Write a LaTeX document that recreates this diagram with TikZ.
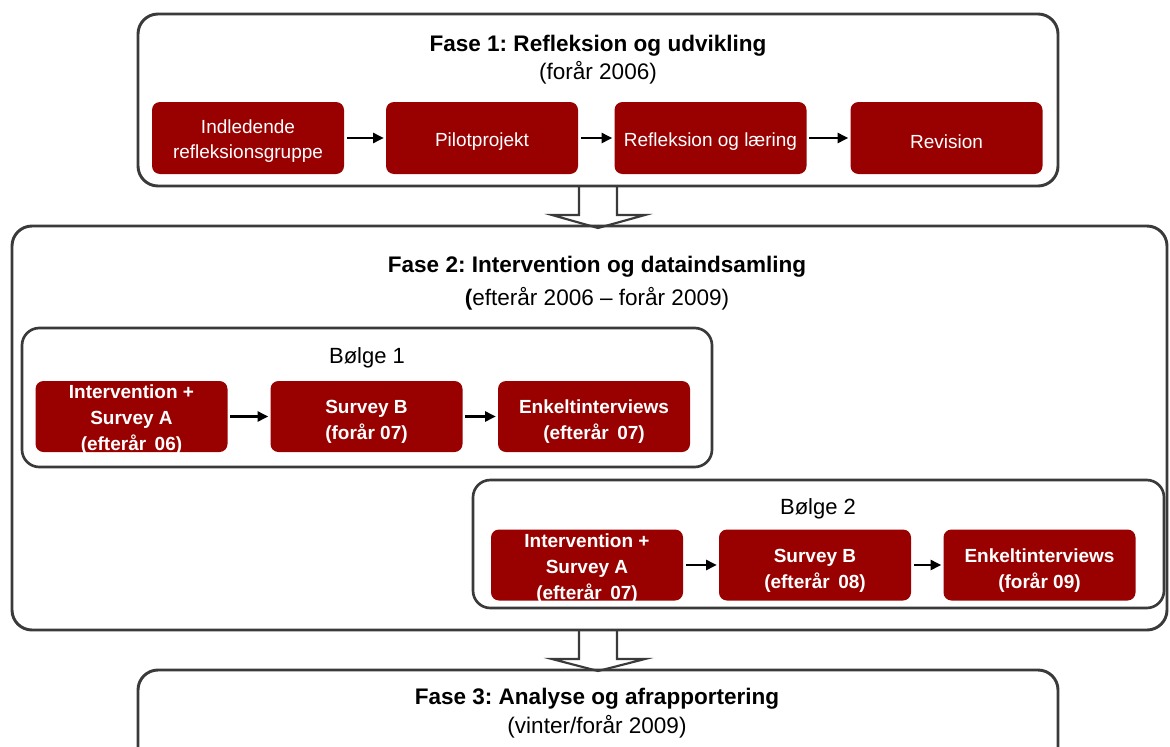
\documentclass[tikz,border=0pt]{standalone}
\usepackage{fontspec}
\setmainfont{Liberation Sans}
\usetikzlibrary{arrows.meta}
\definecolor{boxred}{HTML}{990000}
\definecolor{framegray}{HTML}{3A3A3A}
\frenchspacing
\newcommand\liftA{\rule{0pt}{15.2pt}}
\newcommand\liftB{\rule{0pt}{15.5pt}}
\newcommand\liftC{\rule{0pt}{12.4pt}}
\begin{document}
\begin{tikzpicture}[x=0.75pt,y=-0.75pt,
  phaseframe/.style={draw=framegray,line width=2.2pt,rounded corners=15pt},
  waveframe/.style={draw=framegray,line width=2pt,rounded corners=13pt},
  redbox/.style={fill=boxred,rounded corners=6pt,text=white,align=center,
    minimum width=144pt,minimum height=54pt,inner sep=0pt,
    font=\fontsize{14.25}{19}\selectfont},
  redbold/.style={redbox,minimum height=53.25pt,
    font=\fontsize{14.25}{19.5}\selectfont\bfseries},
  flow/.style={-{Triangle[length=8pt,width=7.5pt]},line width=1.9pt,
    shorten <=2pt,shorten >=1.5pt},
  titletext/.style={anchor=base,font=\fontsize{16.9}{20}\selectfont\bfseries},
  subtext/.style={anchor=base,font=\fontsize{16.9}{20}\selectfont},
  wavetext/.style={anchor=base,font=\fontsize{16.5}{20}\selectfont},
  bigarrow/.style={draw=framegray,line width=1.6pt,fill=white,line join=miter}]
\path[use as bounding box] (0,0) rectangle (1170,746);

% hollow block arrows (drawn first, frames on top)
\filldraw[bigarrow] (579,186) -- (579,215) -- (552,215) -- (598,228) -- (645,215) -- (617,215) -- (617,186);
\filldraw[bigarrow] (579,630) -- (579,659) -- (552,659) -- (598,671) -- (645,659) -- (617,659) -- (617,630);

% Fase 1
\draw[phaseframe] (138,14) rectangle (1058,186);
\node[titletext] (t1) at (598,51) {Fase 1: Refleksion og udvikling};
\node[subtext] (s1) at (598,79) {(forår 2006)};
\node[redbox] (a1) at (248,138) {\liftA Indledende\\refleksionsgruppe};
\node[redbox] (a2) at (482,138) {\liftA Pilotprojekt};
\node[redbox] (a3) at (710.5,138) {\liftA Refleksion og læring};
\node[redbox] (a4) at (946.5,138) {\liftA Revision};
\draw[flow] (a1) -- (a2);
\draw[flow] (a2) -- (a3);
\draw[flow] (a3) -- (a4);

% Fase 2
\draw[phaseframe] (12,226) rectangle (1167,630);
\node[titletext] (t2) at (597,272) {Fase 2: Intervention og dataindsamling};
\node[subtext] (s2) at (597,305) {{\bfseries(}efterår 2006 – forår 2009)};

% Boelge 1
\draw[waveframe] (22,328) rectangle (712,467);
\node[wavetext] (w1) at (367,363) {Bølge 1};
\node[redbold] (b1) at (131.5,416.5) {\liftC Intervention +\\Survey A\\\smash{(efterår\hspace{0.45em}06)}};
\node[redbold] (b2) at (366.5,416.5) {\liftB Survey B\\\smash{(forår 07)}};
\node[redbold] (b3) at (594,416.5) {\liftB Enkeltinterviews\\\smash{(efterår\hspace{0.45em}07)}};
\draw[flow] (b1) -- (b2);
\draw[flow] (b2) -- (b3);

% Boelge 2
\draw[waveframe] (473,480) rectangle (1164,608);
\node[wavetext] (w2) at (818,514) {Bølge 2};
\node[redbold] (c1) at (587,565) {\liftC Intervention +\\Survey A\\\smash{(efterår\hspace{0.45em}07)}};
\node[redbold] (c2) at (815,565) {\liftB Survey B\\\smash{(efterår\hspace{0.45em}08)}};
\node[redbold] (c3) at (1039.5,565) {\liftB Enkeltinterviews\\\smash{(forår 09)}};
\draw[flow] (c1) -- (c2);
\draw[flow] (c2) -- (c3);

% Fase 3
\draw[phaseframe] (138,670) rectangle (1058,770);
\node[titletext] (t3) at (597,704) {Fase 3: Analyse og afrapportering};
\node[subtext] (s3) at (597,733) {(vinter/forår 2009)};
\end{tikzpicture}
\end{document}
